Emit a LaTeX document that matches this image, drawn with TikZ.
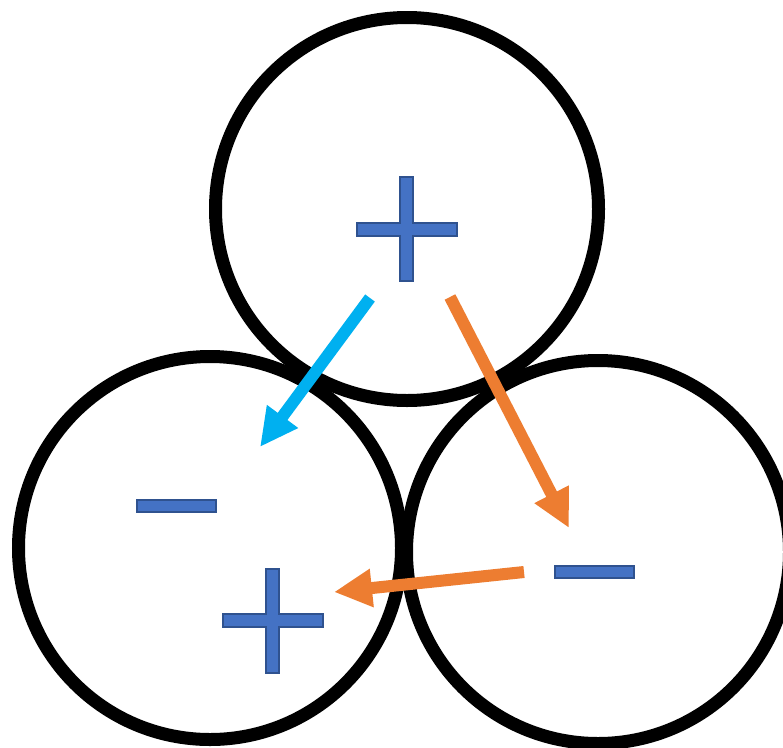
\documentclass[tikz,border=0pt]{standalone}
\usetikzlibrary{arrows.meta}
\definecolor{signfill}{HTML}{4472C4}
\definecolor{signedge}{HTML}{2F528F}
\definecolor{arrblue}{HTML}{00B0F0}
\definecolor{arrorange}{HTML}{ED7D31}
\begin{document}
\begin{tikzpicture}[x=1pt,y=-1pt,
  ring/.style={circle,draw=black,line width=13pt,minimum size=383pt,inner sep=0pt},
  sign/.style={fill=signfill,draw=signedge,line width=2pt},
  flow/.style={line width=12pt,-{Triangle[width=36pt,length=38pt]}},
  plussign/.pic={\path[sign] (-50,-6.5) -- (-6.5,-6.5) -- (-6.5,-52) -- (6.5,-52) -- (6.5,-6.5) -- (50,-6.5) -- (50,6.5) -- (6.5,6.5) -- (6.5,52) -- (-6.5,52) -- (-6.5,6.5) -- (-50,6.5) -- cycle;},
  minussign/.pic={\path[sign] (-39.5,-6) rectangle (39.5,6);}
]
\useasboundingbox (0,0) rectangle (783,747);
\clip (0,0) rectangle (783,747);
\fill[white] (0,0) rectangle (783,747);
\node[ring] (top) at (407,209) {};
\node[ring] (left) at (210,548) {};
\node[ring] (right) at (598,552) {};
\pic at (406.5,229) {plussign};
\pic at (272.5,620.5) {plussign};
\pic at (176,506) {minussign};
\pic at (594,572) {minussign};
\coordinate (b1) at (370,298);
\coordinate (b2) at (260,447);
\coordinate (o1) at (450,297);
\coordinate (o2) at (569,528);
\coordinate (o3) at (524,572);
\coordinate (o4) at (334,592);
\draw[flow,arrblue] (b1) -- (b2);
\draw[flow,arrorange] (o1) -- (o2);
\draw[flow,arrorange] (o3) -- (o4);
\end{tikzpicture}
\end{document}
